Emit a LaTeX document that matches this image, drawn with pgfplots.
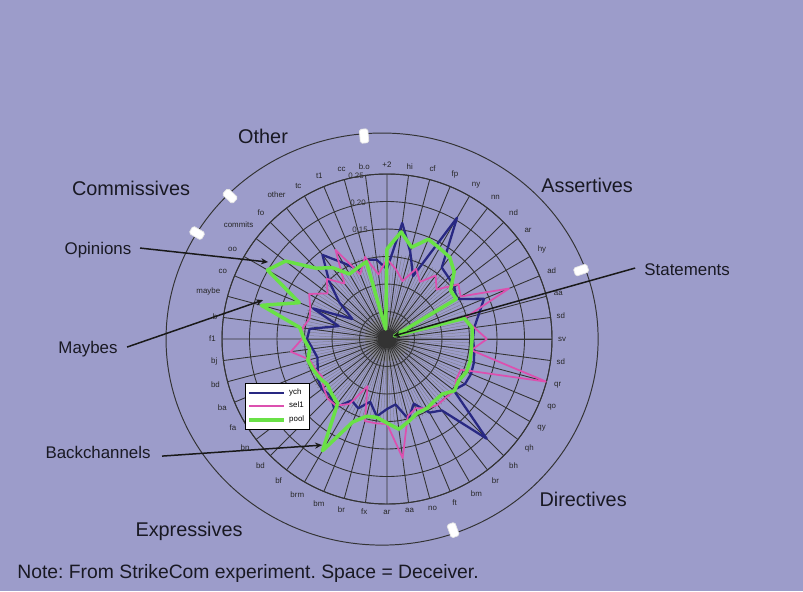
\documentclass[border=0pt]{standalone}
\usepackage{pgfplots}
\pgfplotsset{compat=1.18}
\usepgfplotslibrary{polar}
\usetikzlibrary{arrows.meta}
\usepackage{fontspec}
\setmainfont{Liberation Sans}

\definecolor{bgcol}{RGB}{156,156,202}
\definecolor{navy}{RGB}{40,40,130}
\definecolor{pinkc}{RGB}{220,80,175}
\definecolor{greenc}{RGB}{105,225,70}
\definecolor{txt}{RGB}{25,25,35}

\begin{document}
\frenchspacing
\begin{tikzpicture}
\useasboundingbox (0,0) rectangle (16.06,11.82);
\fill[bgcol] (0,0) rectangle (16.06,11.82);

% decorations in pixel coordinates (origin top left)
\begin{scope}[x=0.02cm, y=-0.02cm, shift={(0cm,11.82cm)}]
  \draw[black!80, line width=0.55pt] (382,339) ellipse [x radius=216, y radius=206];
  \foreach \a in {0,2.5,...,357.5}
    \draw[black!55, line width=0.15pt] (387,339) -- ++(\a:85);
  \fill[black!45, opacity=0.5] (387,339) circle [radius=22];
  \fill[black] (387,339) circle [radius=6];

  \foreach \p/\r in {{(364,136)}/95, {(230,196)}/137, {(197,233)}/150, {(581,270)}/19, {(453,530)}/-70}
    \node[fill=white, draw=white!80!gray, rounded corners=1pt, minimum width=0.28cm,
          minimum height=0.17cm, inner sep=0pt, rotate=\r] at \p {};

  \begin{scope}[font=\fontsize{11.3}{13}\selectfont, text=txt]
    \node at (263,136) {Other};
    \node at (131,188) {Commissives};
    \node at (587,185) {Assertives};
    \node at (583,499) {Directives};
    \node at (189,531) {Expressives};
  \end{scope}
  \begin{scope}[font=\fontsize{9.6}{11}\selectfont, text=txt]
    \node at (98,250) {Opinions};
    \node at (88,349) {Maybes};
    \node at (98,452) {Backchannels};
    \node at (687,270) {Statements};
  \end{scope}
  \node[anchor=west, text=txt, font=\fontsize{11}{13}\selectfont, inner sep=0pt] at (17,573)
    {Note: From StrikeCom experiment. Space = Deceiver.};

  \begin{scope}[font=\fontsize{4.5}{5}\selectfont, text=black!80]
    \node at (356,176) {0.25};
    \node at (358,203) {0.20};
    \node at (360,230) {0.15};
  \end{scope}
\end{scope}

\begin{polaraxis}[
    at={(7.74cm,5.04cm)}, anchor=center,
    scale only axis, width=6.6cm, height=6.6cm,
    ymin=0, ymax=165,
    xtick={0,7.5,...,352.5},
    xticklabels={sv,sd,aa,ad,hy,ar,nd,nn,ny,fp,cf,hi,+2,b.o,cc,t1,tc,other,fo,commits,oo,co,maybe,b,f1,bj,bd,ba,fa,bn,bd,bf,brm,bm,br,fx,ar,aa,no,ft,bm,br,bh,qh,qy,qo,qr,sd},
    ytick={27.5,55,82.5,110,137.5,165},
    yticklabels={},
    grid=major,
    major grid style={black!80, line width=0.5pt},
    axis line style={black!80, line width=0.55pt},
    tick style={draw=none},
    xticklabel style={font=\fontsize{4.5}{5}\selectfont, text=black!85},
    legend style={at={(0.07,0.367)}, anchor=north west, font=\fontsize{4.5}{5}\selectfont,
      fill=white, draw=black, inner sep=1pt, row sep=-1pt},
    legend cell align=left,
    legend image code/.code={\draw[#1] (0cm,0cm) -- (0.7cm,0cm);},
  ]
  \addplot[navy, line width=1.3pt, line join=round] coordinates {
    (0,86) (7.5,88) (15,95) (22.5,105) (30,80) (37.5,85) (45,87) (52.5,90)
    (60,140) (67.5,68) (75,90) (82.5,117) (90,70) (97.5,80) (105,82) (112.5,75)
    (120,88) (127.5,106) (135,82) (142.5,60) (150,40) (157.5,80) (165,50) (172.5,78)
    (180,80) (187.5,75) (195,72) (202.5,75) (210,80) (217.5,82) (225,80) (232.5,87)
    (240,71) (247.5,75) (255,65) (262.5,78) (270,70) (277.5,66) (285,83) (292.5,70)
    (300,85) (307.5,90) (315,141) (322.5,84) (330,90) (337.5,91) (345,90) (352.5,88)
    (360,86)};
  \addplot[pinkc, line width=1.0pt, line join=round] coordinates {
    (0,100) (7.5,88) (15,80) (22.5,132) (30,85) (37.5,90) (45,70) (52.5,80)
    (60,66) (67.5,76) (75,60) (82.5,70) (90,80) (97.5,65) (105,85) (112.5,70)
    (120,103) (127.5,70) (135,85) (142.5,75) (150,90) (157.5,83) (165,80) (172.5,85)
    (180,85) (187.5,97) (195,80) (202.5,78) (210,75) (217.5,80) (225,84) (232.5,84)
    (240,75) (247.5,51) (255,85) (262.5,85) (270,85) (277.5,120) (285,80) (292.5,75)
    (300,80) (307.5,83) (315,83) (322.5,85) (330,80) (337.5,80) (345,165) (352.5,85)
    (360,100)};
  \addplot[greenc, line width=2.0pt, line join=round] coordinates {
    (0,85) (7.5,86) (15,80) (22.5,8) (30,80) (37.5,80) (45,95) (52.5,103)
    (60,105) (67.5,108) (75,95) (82.5,108) (90,90) (97.5,10) (105,80) (112.5,77)
    (120,75) (127.5,90) (135,100) (142.5,128) (150,138) (157.5,95) (165,130) (172.5,88)
    (180,83) (187.5,78) (195,82) (202.5,80) (210,78) (217.5,75) (225,78) (232.5,81)
    (240,129) (247.5,90) (255,80) (262.5,79) (270,84) (277.5,91) (285,85) (292.5,80)
    (300,80) (307.5,78) (315,78) (322.5,85) (330,83) (337.5,86) (345,86) (352.5,85)
    (360,85)};
  \legend{ych,sel1,pool}
\end{polaraxis}

\begin{scope}[x=0.02cm, y=-0.02cm, shift={(0cm,11.82cm)},
              every path/.style={black!90, line width=0.85pt, -{Stealth[length=4pt,width=3.5pt]}}]
  \draw (140,248) -- (268,262);
  \draw (127,347) -- (263,300);
  \draw (162,456) -- (322,445);
  \draw (635,268) -- (393,336);
\end{scope}
\end{tikzpicture}
\end{document}
